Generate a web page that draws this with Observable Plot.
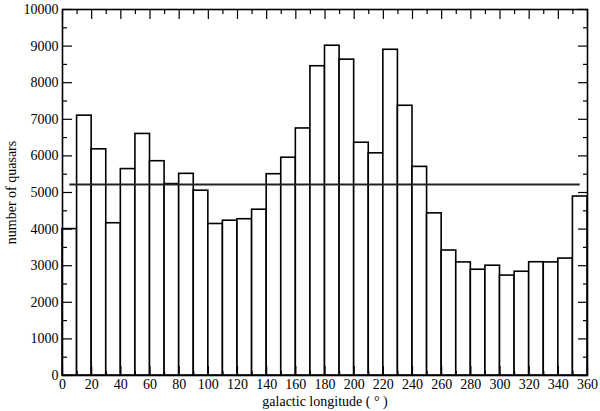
<!DOCTYPE html>
<html>
<head>
<meta charset="utf-8">
<script src="https://cdn.jsdelivr.net/npm/d3@7"></script>
<script src="https://cdn.jsdelivr.net/npm/@observablehq/plot@0.6"></script>
<style>
  html, body { margin: 0; padding: 0; background: #fff; }
  svg { display: block; }
  svg text { font-family: "Liberation Serif", "DejaVu Serif", serif !important; }
</style>
</head>
<body>
<div id="chart"></div>
<script>
// Histogram bins (galactic longitude, degrees)
const binStart = [0,10,20,30,40,50,60,70,80,90,100,110,120,130,140,150,160,170,180,190,200,210,220,230,240,250,260,270,280,290,300,310,320,330,340,350];
const binEnd   = [10,20,30,40,50,60,70,80,90,100,110,120,130,140,150,160,170,180,190,200,210,220,230,240,250,260,270,280,290,300,310,320,330,340,350,360];
const counts   = [4000,7100,6180,4160,5640,6600,5855,5230,5510,5050,4140,4230,4270,4530,5500,5950,6750,8450,9010,8630,6360,6070,8900,7370,5700,4430,3415,3090,2890,3000,2730,2835,3095,3090,3195,4890];

// Mean level line
const meanLevel = [5220];
const meanFrom = 5;
const meanTo = 355;

// Ticks
const xMajor = [0,20,40,60,80,100,120,140,160,180,200,220,240,260,280,300,320,340,360];
const xMinor = [10,30,50,70,90,110,130,150,170,190,210,230,250,270,290,310,330,350];
const yMajor = [0,1000,2000,3000,4000,5000,6000,7000,8000,9000,10000];
const yMinor = [500,1500,2500,3500,4500,5500,6500,7500,8500,9500];

const data = binStart.map((s, i) => ({x1: s, x2: binEnd[i], count: counts[i]}));

const chart = Plot.plot({
  width: 600,
  height: 411,
  marginLeft: 62,
  marginRight: 13,
  marginTop: 9,
  marginBottom: 36,
  style: {fontFamily: "'Liberation Serif', 'DejaVu Serif', serif", fontSize: "14px", color: "black", background: "white"},
  x: {domain: [0, 360]},
  y: {domain: [0, 10000]},
  marks: [
    Plot.rectY(data, {x1: "x1", x2: "x2", y: "count", fill: "white", stroke: "black", strokeWidth: 1.6}),
    Plot.ruleY(meanLevel, {x1: meanFrom, x2: meanTo, stroke: "#222", strokeWidth: 2}),
    // inward ticks
    Plot.axisY({anchor: "left", ticks: yMajor, tickSize: -10, fill: "none", label: null, strokeWidth: 1.2}),
    Plot.axisY({anchor: "left", ticks: yMinor, tickSize: -5, fill: "none", label: null, strokeWidth: 1.2}),
    Plot.axisY({anchor: "right", ticks: yMajor, tickSize: -10, fill: "none", label: null, strokeWidth: 1.2}),
    Plot.axisY({anchor: "right", ticks: yMinor, tickSize: -5, fill: "none", label: null, strokeWidth: 1.2}),
    Plot.axisX({anchor: "top", ticks: xMajor, tickSize: -9, fill: "none", label: null, strokeWidth: 1.2}),
    Plot.axisX({anchor: "top", ticks: xMinor, tickSize: -4, fill: "none", label: null, strokeWidth: 1.2}),
    Plot.axisX({anchor: "bottom", ticks: xMajor, tickSize: -9, fill: "none", label: null, strokeWidth: 1.2}),
    Plot.axisX({anchor: "bottom", ticks: xMinor, tickSize: -4, fill: "none", label: null, strokeWidth: 1.2}),
    // labels
    Plot.axisY({anchor: "left", ticks: yMajor, tickSize: 0, tickPadding: 4, tickFormat: d => String(d),
      label: "number of quasars", labelAnchor: "center", labelOffset: 56, labelArrow: "none", fill: "black"}),
    Plot.axisX({anchor: "bottom", ticks: xMajor, tickSize: 0, tickPadding: 4, tickFormat: d => String(d),
      label: "galactic longitude ( ° )", labelAnchor: "center", labelOffset: 30, labelArrow: "none", fill: "black"}),
    Plot.frame({stroke: "black", strokeWidth: 1.6})
  ]
});
document.getElementById("chart").appendChild(chart);
</script>
</body>
</html>
